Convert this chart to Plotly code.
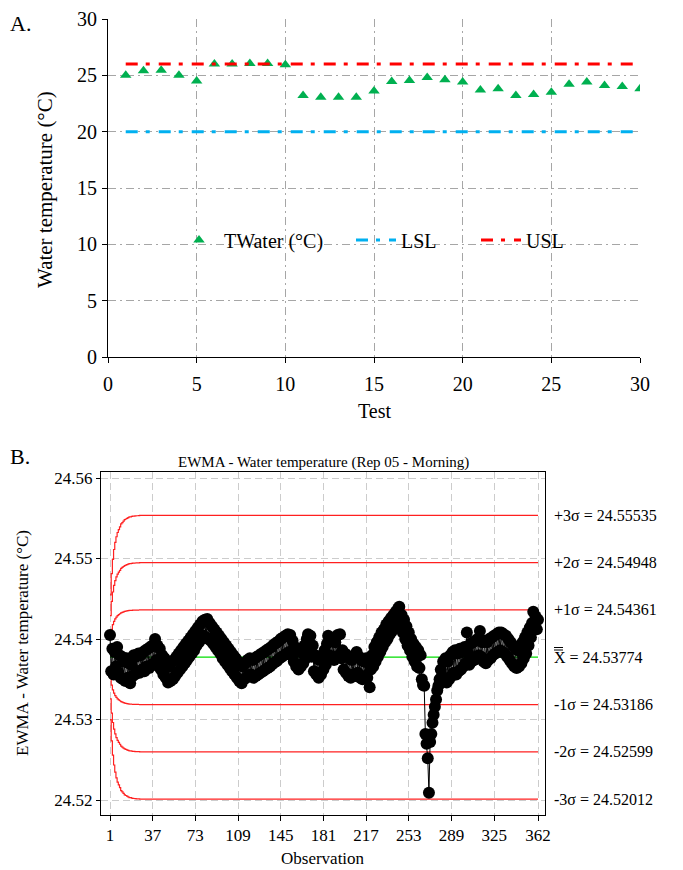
import plotly.graph_objects as go

# ---------------- Panel A data ----------------
tests = list(range(1, 31))
twater = [25.0, 25.4, 25.45, 25.0, 24.5, 26.0, 26.0, 26.05, 26.05, 25.95,
          23.2, 23.05, 23.05, 23.05, 23.6, 24.45, 24.55, 24.8, 24.6, 24.4,
          23.7, 23.8, 23.2, 23.3, 23.5, 24.2, 24.4, 24.1, 24.0, 23.8]
LSL = 20
USL = 26
a_ticks = [0, 5, 10, 15, 20, 25, 30]

# ---------------- Panel B data ----------------
ewma = [
    # 1-12
    24.5405, 24.5360, 24.5388, 24.5356, 24.5384, 24.5366, 24.5390, 24.5358, 24.5380, 24.5352, 24.5378, 24.5350,
    # 13-25
    24.5372, 24.5348, 24.5376, 24.5352, 24.5370, 24.5345, 24.5368, 24.5354, 24.5380, 24.5356, 24.5378, 24.5360, 24.5382,
    # 26-38
    24.5358, 24.5380, 24.5362, 24.5384, 24.5360, 24.5386, 24.5366, 24.5388, 24.5364, 24.5390, 24.5368, 24.5392, 24.5370,
    # 39-45
    24.5400, 24.5374, 24.5392, 24.5366, 24.5388, 24.5362, 24.5380,
    # 46-57
    24.5356, 24.5376, 24.5352, 24.5370, 24.5346, 24.5366, 24.5348, 24.5372, 24.5350, 24.5374, 24.5354, 24.5378,
    # 58-72
    24.5358, 24.5382, 24.5362, 24.5386, 24.5366, 24.5390, 24.5370, 24.5394, 24.5374, 24.5398, 24.5378, 24.5402, 24.5382, 24.5406, 24.5386,
    # 73-90
    24.5410, 24.5392, 24.5414, 24.5396, 24.5418, 24.5400, 24.5422, 24.5404, 24.5424, 24.5402, 24.5425, 24.5400, 24.5420, 24.5398, 24.5416, 24.5394, 24.5412, 24.5390,
    # 91-105
    24.5408, 24.5386, 24.5404, 24.5382, 24.5400, 24.5376, 24.5396, 24.5372, 24.5392, 24.5368, 24.5388, 24.5364, 24.5384, 24.5360, 24.5380,
    # 106-120
    24.5356, 24.5376, 24.5352, 24.5372, 24.5348, 24.5368, 24.5345, 24.5366, 24.5350, 24.5370, 24.5352, 24.5374, 24.5355, 24.5376, 24.5356,
    # 121-155
    24.5374, 24.5352, 24.5376, 24.5354, 24.5378, 24.5356, 24.5380, 24.5358, 24.5382, 24.5360,
    24.5384, 24.5362, 24.5386, 24.5364, 24.5388, 24.5366, 24.5390, 24.5369, 24.5393, 24.5371,
    24.5395, 24.5373, 24.5397, 24.5376, 24.5400, 24.5378, 24.5402, 24.5380, 24.5404, 24.5382,
    24.5406, 24.5384, 24.5405, 24.5380, 24.5398,
    # 156-165
    24.5372, 24.5390, 24.5366, 24.5386, 24.5362, 24.5384, 24.5366, 24.5388, 24.5370, 24.5392,
    # 166-172
    24.5376, 24.5400, 24.5406, 24.5384, 24.5404, 24.5378, 24.5392,
    # 173-182
    24.5360, 24.5380, 24.5356, 24.5376, 24.5352, 24.5374, 24.5356, 24.5380, 24.5362, 24.5386,
    # 183-196
    24.5368, 24.5394, 24.5404, 24.5380, 24.5400, 24.5376, 24.5398, 24.5374, 24.5396, 24.5378, 24.5405, 24.5380, 24.5406, 24.5376,
    # 197-217
    24.5386, 24.5362, 24.5382, 24.5358, 24.5380, 24.5354, 24.5376, 24.5352, 24.5374, 24.5356, 24.5378,
    24.5354, 24.5384, 24.5358, 24.5378, 24.5352, 24.5374, 24.5350, 24.5372, 24.5354, 24.5376,
    # 218-222
    24.5352, 24.5370, 24.5340, 24.5362, 24.5380,
    # 223-245
    24.5366, 24.5390, 24.5372, 24.5396, 24.5378, 24.5402, 24.5384, 24.5408, 24.5390, 24.5412, 24.5396, 24.5418,
    24.5400, 24.5422, 24.5406, 24.5426, 24.5410, 24.5430, 24.5414, 24.5434, 24.5420, 24.5438, 24.5440,
    # 246-262
    24.5420, 24.5430, 24.5408, 24.5424, 24.5400, 24.5416, 24.5392, 24.5408, 24.5386, 24.5400, 24.5378, 24.5394,
    24.5372, 24.5390, 24.5366, 24.5386, 24.5364,
    # 263-270
    24.5380, 24.5350, 24.5343, 24.5342, 24.5282, 24.5270, 24.5252, 24.5209,
    # 271-282
    24.5272, 24.5282, 24.5296, 24.5306, 24.5316, 24.5325, 24.5336, 24.5342, 24.5350, 24.5362, 24.5354, 24.5372,
    # 283-300
    24.5350, 24.5376, 24.5346, 24.5372, 24.5350, 24.5380, 24.5354, 24.5384, 24.5358, 24.5386, 24.5356, 24.5382,
    24.5360, 24.5388, 24.5362, 24.5384, 24.5366, 24.5390,
    # 301-315
    24.5370, 24.5408, 24.5382, 24.5368, 24.5394, 24.5372, 24.5396, 24.5374, 24.5398, 24.5376, 24.5400, 24.5380, 24.5410, 24.5378, 24.5396,
    # 316-325
    24.5372, 24.5398, 24.5370, 24.5396, 24.5374, 24.5400, 24.5376, 24.5402, 24.5380, 24.5404,
    # 326-340
    24.5382, 24.5406, 24.5384, 24.5408, 24.5386, 24.5408, 24.5384, 24.5406, 24.5382, 24.5404, 24.5378, 24.5400, 24.5374, 24.5396, 24.5370,
    # 341-350
    24.5392, 24.5366, 24.5388, 24.5364, 24.5386, 24.5366, 24.5390, 24.5370, 24.5396, 24.5376,
    # 351-362
    24.5402, 24.5382, 24.5408, 24.5392, 24.5414, 24.5402, 24.5420, 24.5434, 24.5416, 24.5428, 24.5412, 24.5424,
]
observations = list(range(1, len(ewma) + 1))

center_value = 24.53774
limit_labels = ["+3σ", "+2σ", "+1σ", "-1σ", "-2σ", "-3σ"]
limit_values = [24.55535, 24.54948, 24.54361, 24.53186, 24.52599, 24.52012]
# widening of the limits over the first observations (fraction of final width)
widening = [0.44, 0.59, 0.69, 0.76, 0.81, 0.85, 0.88, 0.90, 0.92, 0.94,
            0.95, 0.96, 0.97, 0.975, 0.98, 0.985, 0.99, 0.99, 0.993, 0.995,
            0.996, 0.997, 0.998, 0.998, 0.999]
b_xticks = [1, 37, 73, 109, 145, 181, 217, 253, 289, 325, 362]
b_yticks = [24.52, 24.53, 24.54, 24.55, 24.56]

SERIF = "Liberation Serif, Times New Roman, serif"
W, H = 683, 870
PAGE_OFFSET = 8  # the page body margin shifts the figure by this many pixels


def px_x(p):
    return (p - PAGE_OFFSET) / W


def px_y(p):
    return 1 - (p - PAGE_OFFSET) / H


fig = go.Figure()

# ---- Panel A traces ----
fig.add_trace(go.Scatter(x=tests, y=twater, mode="markers", name="TWater (°C)",
                         marker=dict(symbol="triangle-up", color="#00b050", size=10),
                         xaxis="x", yaxis="y", legend="legend"))
fig.add_trace(go.Scatter(x=tests, y=[LSL] * len(tests), mode="lines", name="LSL",
                         line=dict(color="#00b0f0", width=3, dash="12px,8px,4px,9px"),
                         xaxis="x", yaxis="y", legend="legend2"))
fig.add_trace(go.Scatter(x=tests, y=[USL] * len(tests), mode="lines", name="USL",
                         line=dict(color="#ff0000", width=3, dash="12px,8px,4px,9px"),
                         xaxis="x", yaxis="y", legend="legend3"))

# ---- Panel B traces ----
for lab, val in zip(limit_labels, limit_values):
    ys = []
    for i in range(len(observations)):
        r = widening[i] if i < len(widening) else 1.0
        ys.append(center_value + (val - center_value) * r)
    fig.add_trace(go.Scatter(x=observations, y=ys, mode="lines", line=dict(color="#ff2020", width=1.2),
                             line_shape="hv", showlegend=False, xaxis="x2", yaxis="y2", hoverinfo="skip"))
fig.add_trace(go.Scatter(x=observations, y=[center_value] * len(observations), mode="lines",
                         line=dict(color="#00dd00", width=1.2), showlegend=False, xaxis="x2", yaxis="y2"))
fig.add_trace(go.Scatter(x=observations, y=ewma, mode="lines+markers",
                         line=dict(color="black", width=1),
                         marker=dict(color="black", size=12, line=dict(width=0)),
                         showlegend=False, xaxis="x2", yaxis="y2"))


def note(text, x, y, size, angle=0, xanchor="center", yanchor="middle", yref="paper", ypix=True):
    return dict(text=text, x=px_x(x), y=(px_y(y) if ypix else y), xref="paper", yref=yref,
                xanchor=xanchor, yanchor=yanchor, textangle=angle, showarrow=False,
                font=dict(family=SERIF, size=size, color="black"))


annotations = [
    note("A.", 8, 23, 22, xanchor="left"),
    note("B.", 8, 457, 22, xanchor="left"),
    note("Water temperature (°C)", 45, 190, 21, angle=-90),
    note("Test", 374, 411, 20),
    note("EWMA - Water temperature (Rep 05 - Morning)", 323, 462, 15),
    note("EWMA - Water temperature (°C)", 22, 643, 17, angle=-90),
    note("Observation", 323, 858, 17),
]
for lab, val in zip(limit_labels, limit_values):
    annotations.append(note(f"{lab} = {val:.5f}", 552, val, 16, xanchor="left", yref="y2", ypix=False))
annotations.append(note(f"X = {center_value:.5f}", 552, center_value, 16, xanchor="left", yref="y2", ypix=False))

# double bar over the X of the centre-line label
shapes = []
for bar_y in (647.5, 650):
    shapes.append(dict(type="line", xref="paper", yref="paper", x0=px_x(554), x1=px_x(563),
                       y0=px_y(bar_y), y1=px_y(bar_y), line=dict(color="black", width=1)))

legend_common = dict(orientation="h", xanchor="left", yanchor="middle", bgcolor="rgba(0,0,0,0)",
                     font=dict(family=SERIF, size=20, color="black"), itemwidth=40)

fig.update_layout(
    width=W, height=H,
    margin=dict(l=0, r=0, t=0, b=0),
    paper_bgcolor="white", plot_bgcolor="white",
    font=dict(family=SERIF, color="black"),
    showlegend=True,
    legend=dict(x=px_x(174), y=px_y(240), **legend_common),
    legend2=dict(x=px_x(351), y=px_y(240), **legend_common),
    legend3=dict(x=px_x(476), y=px_y(240), **legend_common),
    xaxis=dict(domain=[px_x(108), px_x(640)], anchor="y", range=[0, 30], tickvals=a_ticks, automargin=False,
               showline=True, linecolor="black", linewidth=1, ticks="outside", ticklen=5, tickcolor="black",
               showgrid=True, gridcolor="#a6a6a6", griddash="8px,4px,2px,4px", gridwidth=1,
               zeroline=False, tickfont=dict(family=SERIF, size=20), ticklabelstandoff=4),
    yaxis=dict(domain=[px_y(357), px_y(19)], anchor="x", range=[0, 30], tickvals=a_ticks, automargin=False,
               showline=True, linecolor="black", linewidth=1, ticks="outside", ticklen=5, tickcolor="black",
               showgrid=True, gridcolor="#a6a6a6", griddash="8px,4px,2px,4px", gridwidth=1,
               zeroline=False, tickfont=dict(family=SERIF, size=20), ticklabelstandoff=1),
    xaxis2=dict(domain=[px_x(101), px_x(545)], anchor="y2", range=[-6.6, 367.9], tickvals=b_xticks,
                automargin=False,
                showline=True, mirror=True, linecolor="black", linewidth=1, ticks="outside", ticklen=5,
                tickcolor="black", showgrid=True, gridcolor="#cccccc", griddash="7px,4px", gridwidth=1,
                zeroline=False, tickfont=dict(family=SERIF, size=17), ticklabelstandoff=0),
    yaxis2=dict(domain=[px_y(815), px_y(472)], anchor="x2", range=[24.51814, 24.56075], tickvals=b_yticks,
                tickformat=".2f", automargin=False,
                showline=True, mirror=True, linecolor="black", linewidth=1, ticks="outside", ticklen=4,
                tickcolor="black", showgrid=True, gridcolor="#cccccc", griddash="7px,4px", gridwidth=1,
                zeroline=False, tickfont=dict(family=SERIF, size=17), ticklabelstandoff=0),
    annotations=annotations,
    shapes=shapes,
)

fig.write_html("out.html")
